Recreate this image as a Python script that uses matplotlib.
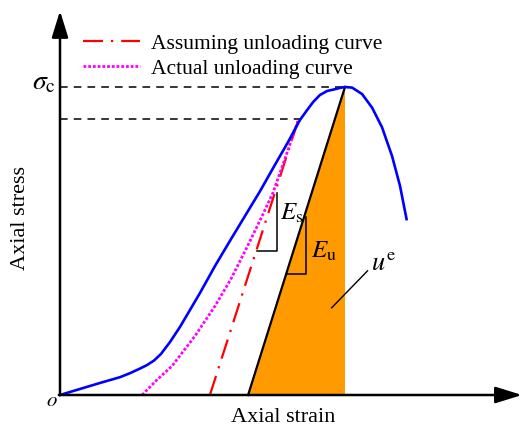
import matplotlib
matplotlib.use("Agg")
import matplotlib.pyplot as plt
import numpy as np

plt.rcParams['font.family'] = ['Liberation Serif', 'DejaVu Serif']
plt.rcParams['mathtext.fontset'] = 'stix'

# Loading curve (normalized strain, normalized stress)
blue_x = [0.0, 0.140, 0.211, 0.246, 0.281, 0.305, 0.330, 0.354, 0.386, 0.421, 0.456, 0.491, 0.544,
          0.596, 0.649, 0.702, 0.754, 0.800, 0.842, 0.867, 0.888, 0.912, 0.937, 0.961, 0.982, 1.0,
          1.025, 1.060, 1.095, 1.130, 1.165, 1.193, 1.216]
blue_y = [0.0, 0.039, 0.058, 0.071, 0.086, 0.097, 0.112, 0.133, 0.172, 0.221, 0.276, 0.331, 0.419,
          0.500, 0.581, 0.662, 0.747, 0.821, 0.893, 0.925, 0.951, 0.974, 0.987, 0.992, 0.997, 1.0,
          0.998, 0.977, 0.933, 0.869, 0.776, 0.679, 0.571]

# Actual unloading curve
mag_x = [0.288, 0.340, 0.393, 0.474, 0.544, 0.600, 0.660, 0.709, 0.747, 0.789, 0.835]
mag_y = [0.0, 0.049, 0.094, 0.192, 0.289, 0.377, 0.487, 0.581, 0.656, 0.766, 0.890]

# Assuming unloading curve
red_x = [0.526, 0.835]
red_y = [0.0, 0.89]

# Elastic unloading line from the peak
black_x = [0.660, 1.0]
black_y = [0.0, 1.0]

peak_stress = 1.0
unload_stress = 0.896
unload_strain_end = 0.849

W, H = 526, 431
fig = plt.figure(figsize=(W / 100, H / 100), dpi=100)
ax = fig.add_axes([0, 0, 1, 1])
ax.set_xlim(-60 / 285, (W - 60) / 285)
ax.set_ylim((396 - H) / 308, 396 / 308)
ax.axis('off')

# orange elastic energy triangle
ax.fill([black_x[0], black_x[1], black_x[1]], [black_y[0], black_y[1], 0.0],
        color='#FF9A00', lw=0, zorder=1)

# dashed reference lines
ax.plot([0, 1.0], [peak_stress, peak_stress], color='black', lw=1.1, ls=(0, (5, 4)), zorder=2)
ax.plot([0, unload_strain_end], [unload_stress, unload_stress], color='black', lw=1.1, ls=(0, (5, 4)), zorder=2)

ax.plot(black_x, black_y, color='black', lw=1.6, zorder=3)
ax.plot(red_x, red_y, color='#FF0000', lw=1.6, ls=(0, (9, 3.6, 1.0, 3.6)), zorder=3,
        label='Assuming unloading curve')
ax.plot(mag_x, mag_y, color='#FF00FF', lw=2.0, ls=(0, (1.0, 0.7)), zorder=3,
        label='Actual unloading curve')
ax.plot(blue_x, blue_y, color='#0000FF', lw=1.9, zorder=4, solid_joinstyle='round')

# axes with arrows
ax.annotate('', xy=(0, 1.247), xytext=(0, 0),
            arrowprops=dict(arrowstyle='-|>,head_length=0.9,head_width=0.28', lw=1.8,
                            color='black', mutation_scale=18, shrinkA=0, shrinkB=0), zorder=5)
ax.annotate('', xy=(1.621, 0), xytext=(-0.004, 0),
            arrowprops=dict(arrowstyle='-|>,head_length=0.9,head_width=0.28', lw=1.8,
                            color='black', mutation_scale=18, shrinkA=0, shrinkB=0), zorder=5)

# slope triangles
ax.plot([0.763, 0.763, 0.690], [0.656, 0.4675, 0.4675], color='black', lw=1.1, zorder=4)
ax.plot([0.863, 0.863, 0.793], [0.578, 0.393, 0.393], color='black', lw=1.1, zorder=4)
ax.plot([0.953, 1.079], [0.283, 0.403], color='black', lw=1.0, zorder=4)

ax.text(0.772, 0.571, r'$E_\mathrm{s}$', fontsize=18, va='baseline', ha='left')
ax.text(0.881, 0.448, r'$E_\mathrm{u}$', fontsize=18, va='baseline', ha='left')
ax.text(1.090, 0.409, r'$u^\mathrm{e}$', fontsize=19, va='baseline', ha='left')
ax.text(-0.100, 0.994, r'$\sigma_\mathrm{c}$', fontsize=20, va='baseline', ha='left')
ax.text(-0.048, -0.032, r'$o$', fontsize=15, va='baseline', ha='left')

ax.text(0.782, -0.071, 'Axial strain', fontsize=16, ha='center', va='center')
ax.text(-0.140, 0.578, 'Axial stress', fontsize=16, ha='center', va='center', rotation=90)

ax.legend(loc='upper left', bbox_to_anchor=(83 / W, 1 - 34 / H), bbox_transform=fig.transFigure,
          frameon=False, fontsize=15.5, handlelength=2.65, handletextpad=0.5,
          labelspacing=0.23, borderpad=0, borderaxespad=0)

fig.savefig('out.png', dpi=100)
